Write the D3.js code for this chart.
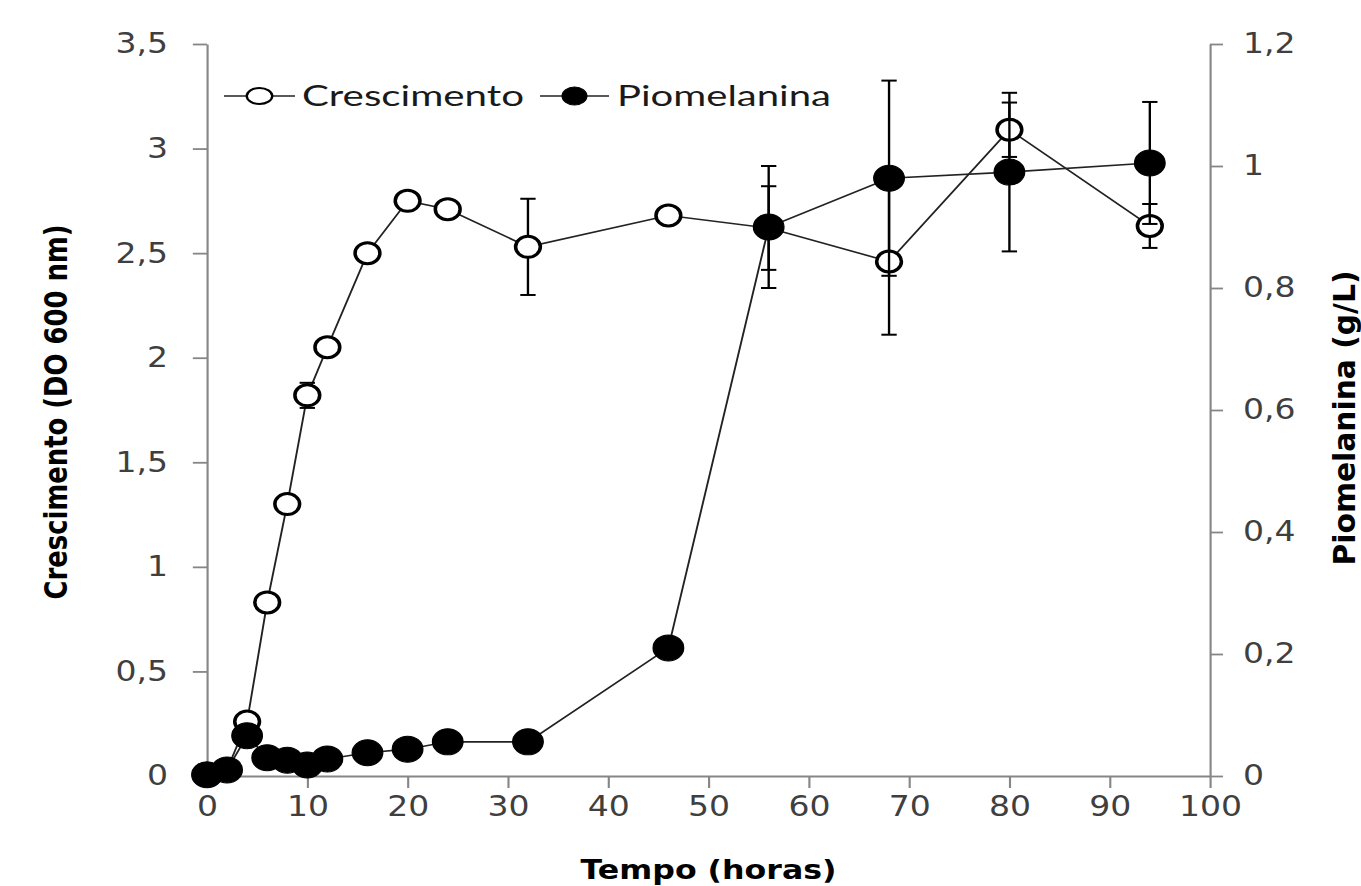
<!DOCTYPE html>
<html>
<head>
<meta charset="utf-8">
<script src="https://cdn.jsdelivr.net/npm/d3@7"></script>
<style>
    html, body { margin: 0; padding: 0; background: #fff; overflow: hidden; }
    svg { display: block; }
</style>
</head>
<body>
<svg id="chart"></svg>
<script>
// time points (hours)
const hours = [0, 2, 4, 6, 8, 10, 12, 16, 20, 24, 32, 46, 56, 68, 80, 94];
// growth, OD 600 nm (left axis)
const growth = [0.01, 0.03, 0.26, 0.83, 1.30, 1.82, 2.05, 2.50, 2.75, 2.71, 2.53, 2.68, 2.62, 2.46, 3.09, 2.63];
const growthErr = [0, 0, 0, 0, 0, 0.06, 0, 0, 0, 0, 0.23, 0, 0.20, 0.35, 0.13, 0.105];
// pyomelanin, g/L (right axis)
const pigment = [0.002, 0.01, 0.066, 0.03, 0.026, 0.018, 0.028, 0.038, 0.044, 0.056, 0.056, 0.21, 0.90, 0.98, 0.99, 1.005];
const pigmentErr = [0, 0, 0, 0, 0, 0, 0, 0, 0, 0, 0, 0, 0.10, 0.16, 0.13, 0.10];

const xTicks = [0, 10, 20, 30, 40, 50, 60, 70, 80, 90, 100];
const leftTicks = [0, 0.5, 1, 1.5, 2, 2.5, 3, 3.5];
const rightTicks = [0, 0.2, 0.4, 0.6, 0.8, 1, 1.2];
const seriesNames = ['Crescimento', 'Piomelanina'];

// the original picture is stretched sideways, so draw narrow and stretch the svg
const W = 1361, H = 886, STRETCH = 1.18;
const VW = W / STRETCH;

const svg = d3.select('#chart')
    .attr('width', W)
    .attr('height', H)
    .attr('viewBox', `0 0 ${VW} ${H}`)
    .attr('preserveAspectRatio', 'none');

const x = d3.scaleLinear().domain([0, 100]).range([207 / STRETCH, 1210 / STRETCH]);
const yL = d3.scaleLinear().domain([0, 3.5]).range([776, 44]);
const yR = d3.scaleLinear().domain([0, 1.2]).range([776, 44]);

const comma = d => String(d).replace('.', ',');
const axisGray = '#868686';
const labelGray = '#3f3f3f';

function styleAxis(g) {
    g.select('.domain').attr('stroke', axisGray).attr('stroke-width', 1.8);
    g.selectAll('.tick line').attr('stroke', axisGray).attr('stroke-width', 1.8);
    g.selectAll('.tick text')
        .attr('fill', labelGray)
        .style('font-family', '"DejaVu Sans", Verdana, sans-serif')
        .style('font-size', '28px');
}

svg.append('g')
    .attr('transform', `translate(0,${yL(0)})`)
    .call(d3.axisBottom(x).tickValues(xTicks).tickSize(12).tickSizeOuter(0).tickPadding(8).tickFormat(comma))
    .call(styleAxis);

svg.append('g')
    .attr('transform', `translate(${x(0)},0)`)
    .call(d3.axisLeft(yL).tickValues(leftTicks).tickSize(12).tickSizeOuter(0).tickPadding(21).tickFormat(comma))
    .call(styleAxis);

svg.append('g')
    .attr('transform', `translate(${x(100)},0)`)
    .call(d3.axisRight(yR).tickValues(rightTicks).tickSize(11).tickSizeOuter(0).tickPadding(17).tickFormat(comma))
    .call(styleAxis);

// axis titles
const titleFont = '"DejaVu Sans Condensed", "DejaVu Sans", sans-serif';
svg.append('text')
    .attr('transform', `translate(${56 / STRETCH},412) rotate(-90)`)
    .attr('dy', '0.35em')
    .attr('text-anchor', 'middle')
    .attr('textLength', 375)
    .attr('lengthAdjust', 'spacingAndGlyphs')
    .style('font-family', titleFont)
    .style('font-weight', 'bold')
    .style('font-size', '27px')
    .text('Crescimento (DO 600 nm)');

svg.append('text')
    .attr('transform', `translate(${1345 / STRETCH},418) rotate(-90)`)
    .attr('dy', '0.35em')
    .attr('text-anchor', 'middle')
    .attr('textLength', 295)
    .attr('lengthAdjust', 'spacingAndGlyphs')
    .style('font-family', titleFont)
    .style('font-weight', 'bold')
    .style('font-size', '25px')
    .text('Piomelanina (g/L)');

svg.append('text')
    .attr('x', x(50))
    .attr('y', 879)
    .attr('text-anchor', 'middle')
    .attr('textLength', 256 / STRETCH)
    .attr('lengthAdjust', 'spacingAndGlyphs')
    .style('font-family', '"DejaVu Sans", Verdana, sans-serif')
    .style('font-weight', 'bold')
    .style('font-size', '26px')
    .text('Tempo (horas)');

const growthPts = hours.map((t, i) => ({ t, v: growth[i], e: growthErr[i] }));
const pigmentPts = hours.map((t, i) => ({ t, v: pigment[i], e: pigmentErr[i] }));

function drawSeries(pts, y, filled) {
    const g = svg.append('g');
    g.append('path')
        .datum(pts)
        .attr('fill', 'none')
        .attr('stroke', '#222')
        .attr('stroke-width', 1.6)
        .attr('d', d3.line().x(d => x(d.t)).y(d => y(d.v)));

    const bars = g.selectAll('.err')
        .data(pts.filter(d => d.e > 0))
        .enter()
        .append('g')
        .attr('stroke', '#000')
        .attr('stroke-width', 2);
    bars.append('line')
        .attr('x1', d => x(d.t)).attr('x2', d => x(d.t))
        .attr('y1', d => y(d.v - d.e)).attr('y2', d => y(d.v + d.e));
    bars.append('line')
        .attr('x1', d => x(d.t) - 6.5).attr('x2', d => x(d.t) + 6.5)
        .attr('y1', d => y(d.v + d.e)).attr('y2', d => y(d.v + d.e));
    bars.append('line')
        .attr('x1', d => x(d.t) - 6.5).attr('x2', d => x(d.t) + 6.5)
        .attr('y1', d => y(d.v - d.e)).attr('y2', d => y(d.v - d.e));

    g.selectAll('circle')
        .data(pts)
        .enter()
        .append('circle')
        .attr('cx', d => x(d.t))
        .attr('cy', d => y(d.v))
        .attr('r', filled ? 13 : 10.5)
        .attr('fill', filled ? '#000' : '#fff')
        .attr('stroke', '#000')
        .attr('stroke-width', filled ? 1 : 3);
}

drawSeries(growthPts, yL, false);
drawSeries(pigmentPts, yR, true);

// legend
const legendItems = [
    { name: seriesNames[0], filled: false, x0: 224, x1: 295, tx: 302, tl: 222 },
    { name: seriesNames[1], filled: true, x0: 540, x1: 609, tx: 617, tl: 214 }
];
const legend = svg.append('g');
legendItems.forEach(it => {
    legend.append('line')
        .attr('x1', it.x0 / STRETCH).attr('x2', it.x1 / STRETCH)
        .attr('y1', 96).attr('y2', 96)
        .attr('stroke', '#222').attr('stroke-width', 1.6);
    legend.append('ellipse')
        .attr('cx', (it.x0 + it.x1) / 2 / STRETCH)
        .attr('cy', 96)
        .attr('rx', it.filled ? 10.5 : 10.8)
        .attr('ry', it.filled ? 9 : 8)
        .attr('fill', it.filled ? '#000' : '#fff')
        .attr('stroke', '#000')
        .attr('stroke-width', it.filled ? 1 : 2);
    legend.append('text')
        .attr('x', it.tx / STRETCH)
        .attr('y', 106)
        .attr('textLength', it.tl / STRETCH)
        .attr('lengthAdjust', 'spacingAndGlyphs')
        .attr('fill', '#1a1a1a')
        .style('font-family', 'Lato, "Open Sans", sans-serif')
        .style('font-size', '29px')
        .text(it.name);
});
</script>
</body>
</html>
